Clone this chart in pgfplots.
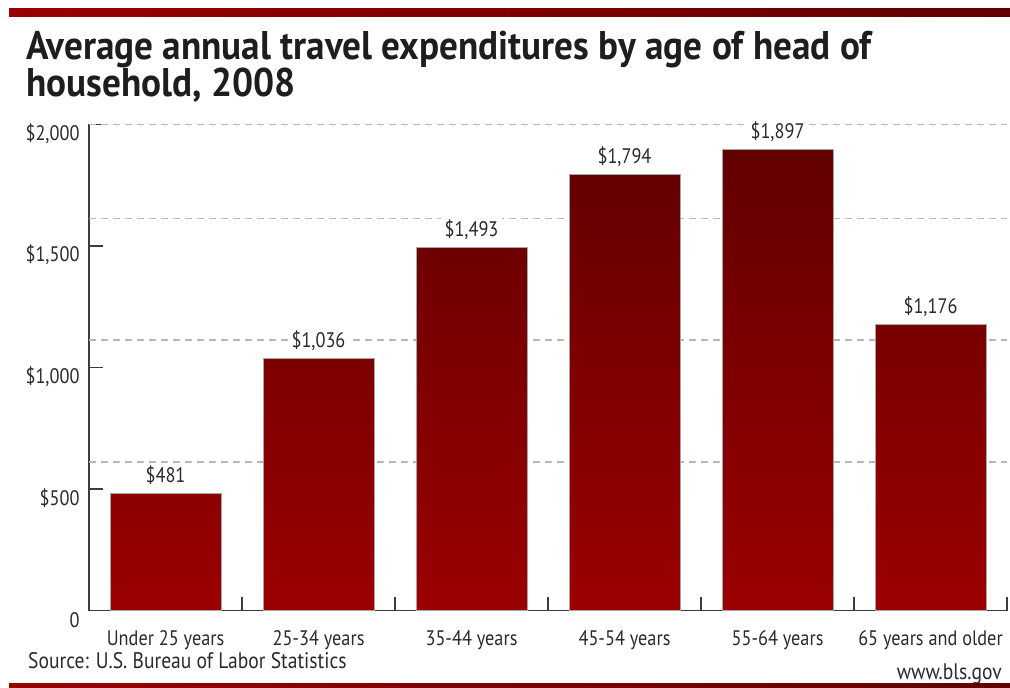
\documentclass[border=0pt]{standalone}
\usepackage{pgfplots}
\pgfplotsset{compat=1.18}
\usepackage{fontspec}
\setmainfont{PT Sans}[FakeStretch=0.87]
\newfontfamily\titlefont{PT Sans}[FakeStretch=0.93]
\definecolor{barTop}{HTML}{620000}
\definecolor{barBot}{HTML}{9C0000}
\definecolor{bandL}{HTML}{990000}
\definecolor{bandR}{HTML}{620000}
\definecolor{axc}{HTML}{3C3C3C}
\definecolor{gridc}{HTML}{B8B8B8}
\definecolor{txt}{HTML}{2A2A2A}
\definecolor{ttl}{HTML}{1E1E1E}
\begin{document}
\begin{tikzpicture}
\path[use as bounding box] (0,0) rectangle (1010bp,-688bp);
\shade[left color=bandL, right color=bandR] (9bp,-8bp) rectangle (1010bp,-16bp);
\shade[left color=bandL, right color=bandR] (9bp,-683bp) rectangle (1010bp,-688bp);
\node[anchor=base west, inner sep=0, font=\titlefont\fontsize{40bp}{44bp}\selectfont\bfseries, text=ttl] at (26bp,-59bp) {Average annual travel expenditures by age of head of};
\node[anchor=base west, inner sep=0, font=\titlefont\fontsize{40bp}{44bp}\selectfont\bfseries, text=ttl] at (26bp,-96bp) {household, 2008};
\begin{axis}[
  at={(89bp,-610.7bp)}, anchor=south west,
  scale only axis, width=918bp, height=486.4bp,
  xmin=-0.5, xmax=5.5, ymin=0, ymax=2000,
  clip=false,
  axis x line*=bottom, axis y line*=left,
  axis line style={-, color=axc, line width=1.5bp},
  major tick length=14bp,
  tick style={color=axc, line width=1.5bp},
  tick align=inside,
  ytick={0,500,1000,1500,2000},
  yticklabels={0,\$500,{\$1,000},{\$1,500},{\$2,000}},
  yticklabel style={anchor=east, xshift=-6bp, yshift=-9bp, font=\fontsize{21bp}{24bp}\selectfont, text=txt},
  xtick={0.5,1.5,2.5,3.5,4.5,5.5},
  xticklabels={,,,,,},
  extra x ticks={0,1,2,3,4,5},
  extra x tick labels={Under 25 years,25-34 years,35-44 years,45-54 years,55-64 years,65 years and older},
  extra x tick style={major tick length=0pt},
  xticklabel style={anchor=base, yshift=-35bp, font=\fontsize{21bp}{24bp}\selectfont, text=txt},
  extra y ticks={612,1113,1613,2000},
  extra y tick labels={\empty,\empty,\empty,\empty},
  extra y tick style={grid=major, major tick length=0pt},
  major grid style={dash pattern=on 7bp off 5bp, color=gridc, line width=1.5bp},
]
\addplot[ybar, bar width=111bp, top color=barTop, bottom color=barBot, draw=gray!70, line width=0.8bp,
  nodes near coords, point meta=explicit symbolic,
  every node near coord/.style={anchor=base, yshift=11bp, fill=white, inner xsep=4bp, inner ysep=2bp, font=\fontsize{21bp}{24bp}\selectfont, text=txt}]
coordinates {(0,481)[\$481] (1,1036)[\$1,036] (2,1493)[\$1,493] (3,1794)[\$1,794] (4,1897)[\$1,897] (5,1176)[\$1,176]};
\end{axis}
\node[anchor=base west, inner sep=0, font=\fontsize{22.5bp}{25bp}\selectfont, text=txt] at (28bp,-668bp) {Source: U.S. Bureau of Labor Statistics};
\node[anchor=base east, inner sep=0, font=\fontsize{22.5bp}{25bp}\selectfont, text=txt] at (1002bp,-679bp) {www.bls.gov};
\end{tikzpicture}
\end{document}
